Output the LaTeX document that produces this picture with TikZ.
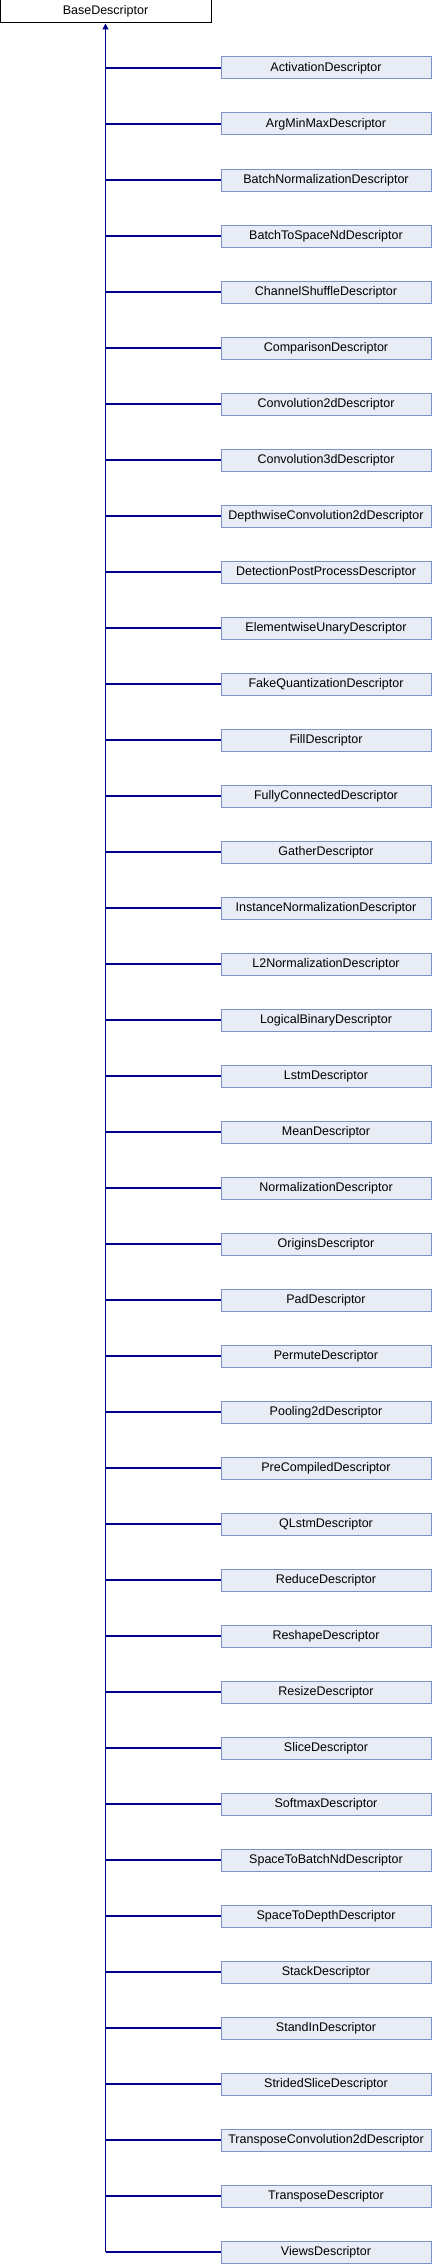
\documentclass[tikz,border=0pt]{standalone}
\usepackage{fontspec}
\setmainfont{Liberation Sans}
\usetikzlibrary{arrows.meta}
\definecolor{edgeblue}{RGB}{0,0,140}
\definecolor{boxfill}{RGB}{232,236,245}
\definecolor{boxdraw}{RGB}{124,146,200}
\tikzset{
  basebox/.style={draw=black, fill=white, line width=1pt, minimum width=211pt, minimum height=23pt, inner sep=0pt, font=\fontsize{12.5}{14}\selectfont},
  descbox/.style={draw=boxdraw, fill=boxfill, line width=1pt, minimum width=210pt, minimum height=22pt, inner sep=0pt, font=\fontsize{12.5}{14}\selectfont},
  inherit/.style={draw=edgeblue, line width=1.4pt}
}
\begin{document}
\begin{tikzpicture}[x=1pt, y=-1pt]
			%%%%% START %%%%%
			\useasboundingbox (0, 0) rectangle (432, 2264);
			
			\node[basebox] (base) at (105.5, 11.5) {BaseDescriptor};
			\coordinate (trunk) at (105.5, 2252);
			
			\foreach \desc [count=\i] in {Activation, ArgMinMax, BatchNormalization, BatchToSpaceNd,
				ChannelShuffle, Comparison, Convolution2d, Convolution3d, DepthwiseConvolution2d,
				DetectionPostProcess, ElementwiseUnary, FakeQuantization, Fill, FullyConnected,
				Gather, InstanceNormalization, L2Normalization, LogicalBinary, Lstm, Mean,
				Normalization, Origins, Pad, Permute, Pooling2d, PreCompiled, QLstm, Reduce,
				Reshape, Resize, Slice, Softmax, SpaceToBatchNd, SpaceToDepth, Stack, StandIn,
				StridedSlice, TransposeConvolution2d, Transpose, Views}
			{
				\node[descbox] (d\i) at (326, 12 + 56*\i) {\desc Descriptor};
				\draw[inherit] (d\i.west -| trunk) -- (d\i.west);
			}
			
			\draw[inherit, -{Triangle[length=6pt, width=6pt]}] (trunk) -- (base.south);
			%%%%% END %%%%%
\end{tikzpicture}
\end{document}
